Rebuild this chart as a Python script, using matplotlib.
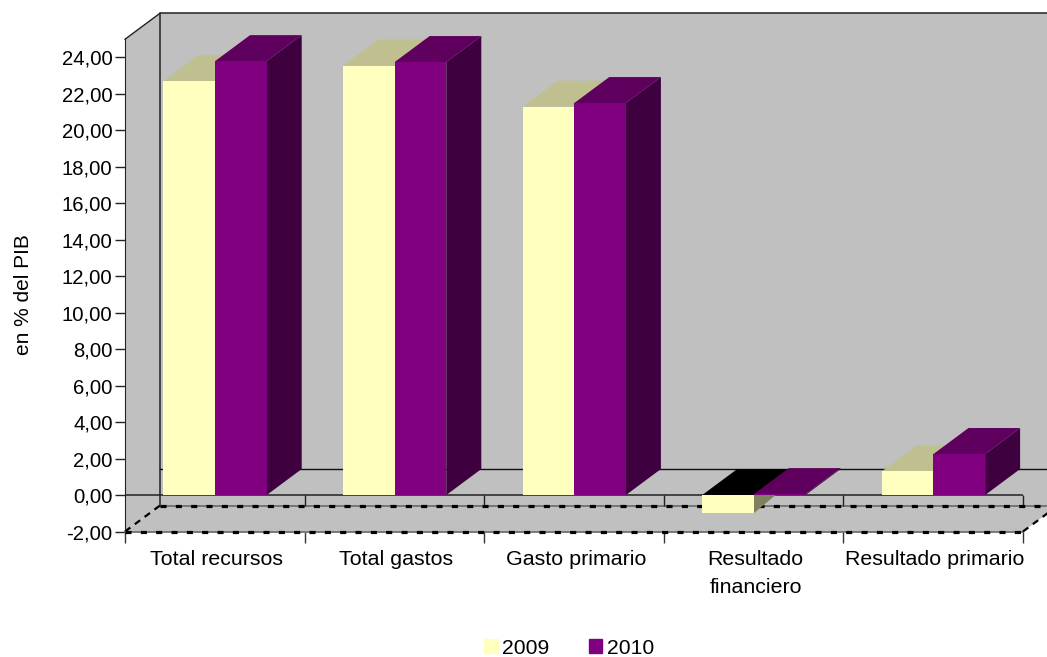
import matplotlib
matplotlib.use('agg')
import numpy as np
import matplotlib.pyplot as plt
from matplotlib.patches import Patch

plt.rcParams['font.family'] = ['Liberation Sans', 'DejaVu Sans']

categories = ['Total recursos', 'Total gastos', 'Gasto primario', 'Resultado\nfinanciero', 'Resultado primario']
years = ['2009', '2010']
vals_2009 = [22.7, 23.55, 21.3, -1.0, 1.3]
vals_2010 = [23.8, 23.75, 21.5, 0.05, 2.25]
y_ticks = np.arange(-2, 26, 2)

W, H = 1047, 657
x0, x1 = 125, 1023   # front plane in pixels
y_lo, y_hi = 531.5, 39.25

fig = plt.figure(figsize=(W / 100, H / 100), dpi=100)
ax = fig.add_axes([x0 / W, 1 - y_lo / H, (x1 - x0) / W, (y_lo - y_hi) / H])
ax.set_xlim(0, 5)
ax.set_ylim(-2, 25)
ax.patch.set_visible(False)

# depth of the fake 3d box, in data units
dx = 35 / ((x1 - x0) / 5)
dy = 26 / ((y_lo - y_hi) / 27)

wall = '#C0C0C0'
# left wall, floor, back wall
ax.fill([0, dx, dx, 0], [-2, -2 + dy, 25 + dy, 25], color=wall, lw=0, clip_on=False, zorder=1)
ax.fill([dx, 5 + dx, 5 + dx, dx], [-2 + dy, -2 + dy, 25 + dy, 25 + dy], color=wall, lw=0, clip_on=False, zorder=1)
ax.fill([0, dx, 5 + dx, 5], [-2, -2 + dy, -2 + dy, -2], color=wall, lw=0, clip_on=False, zorder=1)

# back wall outline and zero line
ax.plot([dx, dx, 5 + dx], [-2 + dy, 25 + dy, 25 + dy], color='#222222', lw=1.1, clip_on=False, zorder=2)
ax.plot([0, dx], [25, 25 + dy], color='#222222', lw=1, clip_on=False, zorder=2)
ax.plot([dx, 5 + dx], [dy, dy], color='#111111', lw=1, clip_on=False, zorder=2)

# floor edges, grey line with black dashes on top
for xs, ys in [([0, 5], [-2, -2]), ([dx, 5 + dx], [-2 + dy, -2 + dy])]:
    ax.plot(xs, ys, color='#707070', lw=1.3, clip_on=False, zorder=2)
    ax.plot(xs, ys, color='black', lw=2.3, ls=(0, (1.9, 2.9)), clip_on=False, zorder=3)
for xa in [0, 5]:
    ax.plot([xa, xa + dx], [-2, -2 + dy], color='black', lw=1.6, ls=(0, (3, 2.5)), clip_on=False, zorder=3)

# zero line at the front with its small ticks
ax.plot([0, 5], [0, 0], color='#222222', lw=1.1, zorder=4)
ax.vlines(np.arange(1, 6), -0.6, 0, color='#222222', lw=1, zorder=2, clip_on=False)

bar_w = 0.2875
start = 0.214


def draw_bar(x, v, front, top, side, z):
    ax.bar(x, v, width=bar_w, align='edge', color=front, lw=0, zorder=z + 1)
    h = max(v, 0)
    ax.fill([x, x + dx, x + bar_w + dx, x + bar_w], [h, h + dy, h + dy, h], color=top, lw=0, clip_on=False, zorder=z)
    if v >= 0:
        ax.fill([x + bar_w, x + bar_w + dx, x + bar_w + dx, x + bar_w],
                [0, dy, v + dy, v], color=side, lw=0, clip_on=False, zorder=z)


for i in range(len(categories)):
    x = i + start
    v = vals_2009[i]
    top = '#000000' if v < 0 else '#BFBF90'
    draw_bar(x, v, '#FFFFC0', top, '#808060', 5 + i)
    if v < 0:
        # side of the negative bar shows under the zero plane
        xr = x + bar_w
        ax.fill([xr, xr + dx * 0.62, xr], [v, 0, 0], color='#808060', lw=0, zorder=5 + i)
    draw_bar(x + bar_w, vals_2010[i], '#800080', '#5F005F', '#3F003F', 5.5 + i)

ax.spines['top'].set_visible(False)
ax.spines['right'].set_visible(False)
ax.spines['bottom'].set_visible(False)
ax.spines['left'].set_bounds(-2, 25)
ax.spines['left'].set_color('#222222')
ax.spines['left'].set_zorder(4)

ax.set_yticks(y_ticks)
ax.set_yticklabels([('%.2f' % t).replace('.', ',') for t in y_ticks])
ax.tick_params(axis='y', length=7, width=1, labelsize=14.6, color='#222222', pad=2)
ax.set_xticks(np.arange(0, 6))
ax.set_xticklabels([])
ax.tick_params(axis='x', length=8, width=1, color='#333333')

for i, c in enumerate(categories):
    ax.text(i + 0.511, -3.0, c, ha='center', va='top', fontsize=15.4, linespacing=1.6)

ax.text(-0.565, 11.0, 'en % del PIB', rotation=90, ha='center', va='center', fontsize=15)

handles = [Patch(color='#FFFFC0', label=years[0]), Patch(color='#800080', label=years[1])]
fig.legend(handles=handles, loc='center', bbox_to_anchor=(569 / W, 1 - 648 / H), ncol=2, frameon=False,
           fontsize=15.2, handlelength=0.66, handleheight=0.66, handletextpad=0.2, columnspacing=1.85)

fig.savefig('out.png', dpi=100)
plt.close(fig)
